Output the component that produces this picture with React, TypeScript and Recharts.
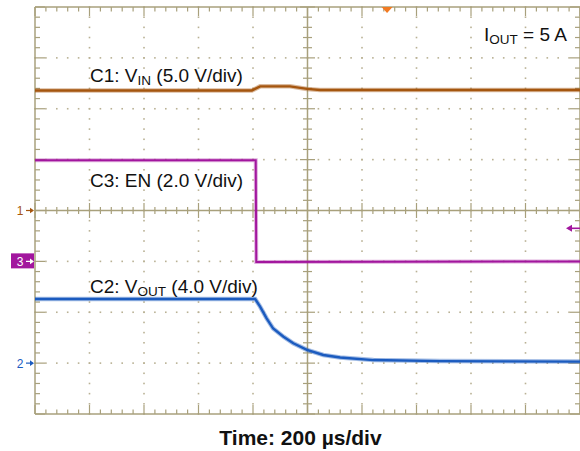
import React from 'react';
import { LineChart, Line, XAxis, YAxis, ReferenceLine, ReferenceDot } from 'recharts';

const W = 580;
const H = 451;
const MARGIN = { top: 7, right: 0, bottom: 37, left: 35 };

// Horizontal: time in divisions (200 µs/div). Vertical: screen divisions.
const xMajor = [0, 1, 2, 3, 4, 5, 6, 7, 8, 9, 10];
const yMajor = [-4, -3, -2, -1, 0, 1, 2, 3, 4];

// C1: VIN (5.0 V/div)
const vinTimes = [0, 3.98, 4.13, 4.68, 4.99, 5.23, 10];
const vinValues = [2.36, 2.36, 2.44, 2.44, 2.39, 2.37, 2.37];

// C3: EN (2.0 V/div)
const enTimes = [0, 4.05, 4.06, 10];
const enValues = [0.99, 0.99, -1.01, -1.0];

// C2: VOUT (4.0 V/div)
const voutTimes = [0, 4.04, 4.13, 4.25, 4.37, 4.56, 4.74, 4.99, 5.29, 5.6, 6.21, 7.43, 10];
const voutValues = [-1.74, -1.74, -1.89, -2.12, -2.32, -2.48, -2.61, -2.74, -2.84, -2.89, -2.94, -2.96, -2.97];

// channel ground markers (divisions), trigger position & level
const groundLabels = ['1', '3', '2'];
const groundLevels = [0, -1, -3];
const triggerTime = 6.46;
const triggerLevel = -0.35;

const C1 = '#a5560f';
const C3 = '#a2169e';
const C2 = '#1b5bbf';
const AXIS = '#a8a07c';
const DOT = '#b9b194';
const FONT = '"Liberation Sans", Arial, Helvetica, sans-serif';

const zip = (ts: number[], vs: number[]) => ts.map((t, i) => ({ t, v: vs[i] }));
const vinData = zip(vinTimes, vinValues);
const enData = zip(enTimes, enValues);
const voutData = zip(voutTimes, voutValues);

const span = (a: number, b: number) => [Math.min(a, b), Math.max(a, b)];

const DotsV = (p: any) => {
  const [t, b] = span(p.y1, p.y2);
  const step = (b - t) / 40;
  const out = [];
  for (let i = 0; i <= 40; i++) {
    out.push(<rect key={i} x={p.x1 - 0.8} y={t + i * step - 0.8} width={1.6} height={1.6} fill={DOT} />);
  }
  return <g>{out}</g>;
};
const DotsH = (p: any) => {
  const [l, r] = span(p.x1, p.x2);
  const step = (r - l) / 50;
  const out = [];
  for (let i = 0; i <= 50; i++) {
    out.push(<rect key={i} x={l + i * step - 0.8} y={p.y1 - 0.8} width={1.6} height={1.6} fill={DOT} />);
  }
  return <g>{out}</g>;
};

// vertical line with horizontal ticks; dir: 0 = both sides, 1 = right, -1 = left
const AxisV = (dir: number, minor: number, major: number) => (p: any) => {
  const [t, b] = span(p.y1, p.y2);
  const step = (b - t) / 40;
  const ticks = [];
  for (let i = 0; i <= 40; i++) {
    const len = i % 5 === 0 ? major : minor;
    const y = t + i * step;
    const xa = dir === 0 ? p.x1 - len : p.x1;
    const xb = dir === 0 ? p.x1 + len : p.x1 + dir * len;
    ticks.push(<line key={i} x1={xa} x2={xb} y1={y} y2={y} stroke={AXIS} strokeWidth={1.2} />);
  }
  return (
    <g>
      <line x1={p.x1} x2={p.x1} y1={t} y2={b} stroke={AXIS} strokeWidth={1.5} />
      {ticks}
    </g>
  );
};
// horizontal line with vertical ticks; dir: 0 both, 1 down, -1 up
const AxisH = (dir: number, minor: number, major: number) => (p: any) => {
  const [l, r] = span(p.x1, p.x2);
  const step = (r - l) / 50;
  const ticks = [];
  for (let i = 0; i <= 50; i++) {
    const len = i % 5 === 0 ? major : minor;
    const x = l + i * step;
    const ya = dir === 0 ? p.y1 - len : p.y1;
    const yb = dir === 0 ? p.y1 + len : p.y1 + dir * len;
    ticks.push(<line key={i} x1={x} x2={x} y1={ya} y2={yb} stroke={AXIS} strokeWidth={1.2} />);
  }
  return (
    <g>
      <line x1={l} x2={r} y1={p.y1} y2={p.y1} stroke={AXIS} strokeWidth={1.5} />
      {ticks}
    </g>
  );
};

const markerColors = [C1, C3, C2];
const GroundMarker = (idx: number) => (p: any) => {
  const cy = p.cy;
  const cx = p.cx;
  const col = markerColors[idx];
  const boxed = groundLabels[idx] === '3';
  const fg = boxed ? '#ffffff' : col;
  return (
    <g>
      {boxed && <rect x={cx - 24} y={cy - 8} width={23} height={15} fill={col} />}
      <text x={cx - 15} y={cy + 4.5} fontSize={12} fontFamily={FONT} fill={fg} textAnchor="middle">
        {groundLabels[idx]}
      </text>
      <line x1={cx - 9} x2={cx - 2} y1={cy} y2={cy} stroke={fg} strokeWidth={1.2} />
      <path d={`M${cx - 1},${cy} L${cx - 5},${cy - 2.8} L${cx - 5},${cy + 2.8} Z`} fill={fg} />
    </g>
  );
};

const TriggerMark = (p: any) => (
  <path d={`M${p.cx - 5.5},${p.cy} L${p.cx + 5.5},${p.cy} L${p.cx},${p.cy + 6} Z`} fill="#f27a22" />
);

const LevelArrow = (p: any) => (
  <g>
    <line x1={p.cx - 12} x2={p.cx} y1={p.cy} y2={p.cy} stroke={C3} strokeWidth={1.6} />
    <path d={`M${p.cx - 14},${p.cy} L${p.cx - 8},${p.cy - 3.5} L${p.cx - 8},${p.cy + 3.5} Z`} fill={C3} />
  </g>
);

const innerX = xMajor.filter((v) => v !== 0 && v !== 10 && v !== 5);
const innerY = yMajor.filter((v) => v !== -4 && v !== 4 && v !== 0);

export default function App() {
  return (
    <div style={{ position: 'absolute', left: 0, top: 0, width: W, height: H, background: '#fff' }}>
      <LineChart width={W} height={H} margin={MARGIN}>
        <XAxis type="number" dataKey="t" domain={[0, 10]} hide allowDataOverflow />
        <YAxis type="number" domain={[-4, 4]} hide allowDataOverflow />
        {innerX.map((v) => (
          <ReferenceLine key={'gx' + v} x={v} shape={DotsV} />
        ))}
        {innerY.map((v) => (
          <ReferenceLine key={'gy' + v} y={v} shape={DotsH} />
        ))}
        <ReferenceLine x={5} shape={AxisV(0, 4.5, 7.5)} />
        <ReferenceLine y={0} shape={AxisH(0, 3.5, 7.5)} />
        <ReferenceLine x={0} shape={AxisV(1, 5, 10)} />
        <ReferenceLine x={10} shape={AxisV(-1, 5, 10)} />
        <ReferenceLine y={4} shape={AxisH(1, 4.5, 9)} />
        <ReferenceLine y={-4} shape={AxisH(-1, 4.5, 9)} />

        <Line data={vinData} dataKey="v" type="linear" stroke={C1} strokeOpacity={0.4} strokeWidth={4.5} dot={false} isAnimationActive={false} />
        <Line data={vinData} dataKey="v" type="linear" stroke={C1} strokeWidth={2.4} dot={false} isAnimationActive={false} />
        <Line data={enData} dataKey="v" type="linear" stroke={C3} strokeOpacity={0.35} strokeWidth={4} dot={false} isAnimationActive={false} />
        <Line data={enData} dataKey="v" type="linear" stroke={C3} strokeWidth={2} dot={false} isAnimationActive={false} />
        <Line data={voutData} dataKey="v" type="linear" stroke={C2} strokeOpacity={0.4} strokeWidth={4.5} dot={false} isAnimationActive={false} />
        <Line data={voutData} dataKey="v" type="linear" stroke={C2} strokeWidth={2.4} dot={false} isAnimationActive={false} />

        {groundLevels.map((lv, i) => (
          <ReferenceDot key={'gm' + i} x={0} y={lv} r={3} shape={GroundMarker(i)} />
        ))}
        <ReferenceDot x={triggerTime} y={4} r={3} shape={TriggerMark} />
        <ReferenceDot x={10} y={triggerLevel} r={3} shape={LevelArrow} />
      </LineChart>
      <svg width={W} height={H} style={{ position: 'absolute', left: 0, top: 0, pointerEvents: 'none' }}>
        <g fontFamily={FONT} fill="#111">
          <text x={90} y={81.5} fontSize={19}>
            C1: V<tspan fontSize={13.5} dy={3}>IN</tspan>
            <tspan dy={-3}> (5.0 V/div)</tspan>
          </text>
          <text x={90} y={186.5} fontSize={19}>
            C3: EN (2.0 V/div)
          </text>
          <text x={90} y={292.5} fontSize={19}>
            C2: V<tspan fontSize={13.5} dy={3}>OUT</tspan>
            <tspan dy={-3}> (4.0 V/div)</tspan>
          </text>
          <text x={484} y={40.5} fontSize={19}>
            I<tspan fontSize={13.5} dy={3}>OUT</tspan>
            <tspan dy={-3}> = 5 A</tspan>
          </text>
          <text x={300.5} y={445} fontSize={21} fontWeight="bold" textAnchor="middle">
            Time: 200 µs/div
          </text>
        </g>
      </svg>
    </div>
  );
}
